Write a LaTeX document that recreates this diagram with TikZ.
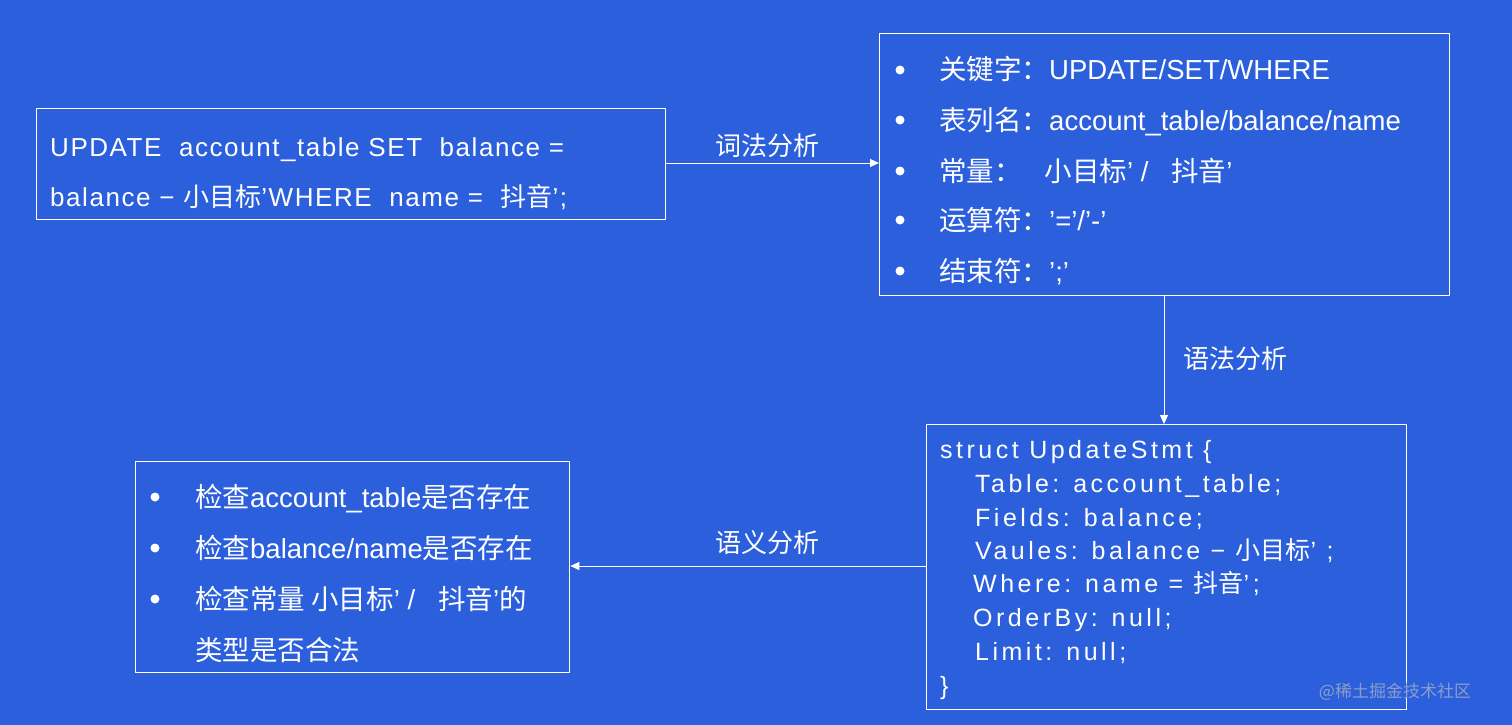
\documentclass[tikz,border=0pt]{standalone}
\usepackage{fontspec}
\setmainfont{Liberation Sans}
\newfontfamily\cjkf{Noto Sans CJK SC}
\newfontfamily\codef[LetterSpace=14]{Liberation Sans}
\newfontfamily\sqlf[LetterSpace=6]{Liberation Sans}
\newcommand\zh[1]{{\cjkf #1}}
\usetikzlibrary{arrows.meta}
\definecolor{bgblue}{RGB}{44,95,220}
\definecolor{wm}{RGB}{140,158,200}
\tikzset{
  box/.style={draw=white, line width=1.3pt, anchor=north west, inner sep=0pt},
  txt/.style={text=white, anchor=base west, inner sep=0pt, font=\fontsize{27.5}{30}\selectfont},
  sql/.style={text=white, anchor=base west, inner sep=0pt, font=\fontsize{26}{30}\sqlf},
  code/.style={text=white, anchor=base west, inner sep=0pt, font=\fontsize{25}{28}\codef},
  dot/.style={circle, fill=white, inner sep=0pt, minimum size=9pt},
  lab/.style={text=white, inner sep=0pt, font=\fontsize{26}{30}\cjkf},
  conn/.style={draw=white, line width=1pt, -{Triangle[length=9pt,width=8pt]}}
}
\begin{document}
\begin{tikzpicture}[x=1pt,y=-1pt]
\fill[bgblue] (0,0) rectangle (1512,725);
\useasboundingbox (0,0) rectangle (1512,725);
% Box A
\node[box, minimum width=629pt, minimum height=111pt] (A) at (36,108) {};
\node[sql] (a1) at (50,156) {UPDATE\ \ account\_table SET\ \ balance\ =};
\node[sql] (a2) at (50,206) {balance − \zh{小目标}’WHERE\ \ name =\ \ \zh{抖音}’;};
% Box B
\node[box, minimum width=570pt, minimum height=262pt] (B) at (879,33) {};
\foreach \y/\t [count=\i] in {80/{\zh{关键字：}UPDATE/SET/WHERE},130/{\zh{表列名：}account\_table/balance/name},181/{\zh{常量：}\ \ \ \zh{小目标}’ /\ \ \ \zh{抖音}’},230/{\zh{运算符：}’=’/’-’},281/{\zh{结束符：}’;’}}{
  \node[dot] (bd\i) at (900,\y-10) {};
  \node[txt] (bt\i) at (939,\y) {\t};
}
% Box C
\node[box, minimum width=480pt, minimum height=285pt] (C) at (926,424) {};
\node[code] (c1) at (940,458) {struct UpdateStmt \{};
\node[code] (c2) at (975,492) {Table: account\_table;};
\node[code] (c3) at (975,526) {Fields: balance;};
\node[code] (c4) at (975,559) {Vaules: balance − \zh{小目标}’ ;};
\node[code] (c5) at (973,592) {Where: name = \zh{抖音}’;};
\node[code] (c6) at (973,626) {OrderBy: null;};
\node[code] (c7) at (975,660) {Limit: null;};
\node[code] (c8) at (940,694) {\}};
% Box D
\node[box, minimum width=434pt, minimum height=211pt] (D) at (135,461) {};
\foreach \y/\t [count=\i] in {507/{\zh{检查}account\_table\zh{是否存在}},558/{\zh{检查}balance/name\zh{是否存在}},609/{\zh{检查常量 小目标}’ /\ \ \ \zh{抖音}’\zh{的}}}{
  \node[dot] (dd\i) at (155,\y-10) {};
  \node[txt] (dt\i) at (195,\y) {\t};
}
\node[txt, font=\fontsize{27.5}{30}\cjkf] (dt4) at (195,660) {类型是否合法};
% connectors
\draw[conn] (A.east |- 0,163) -- (B.west |- 0,163);
\node[lab] (l1) at (767,146) {词法分析};
\draw[conn] (B.south -| 1164,0) -- (C.north -| 1164,0);
\node[lab] (l2) at (1235,359) {语法分析};
\draw[conn] (C.west |- 0,566) -- (D.east |- 0,566);
\node[lab] (l3) at (767,543) {语义分析};
% watermark
\node[text=wm, inner sep=0pt, font=\fontsize{17}{20}\cjkf] (w) at (1395,692) {@稀土掘金技术社区};
\end{tikzpicture}
\end{document}
